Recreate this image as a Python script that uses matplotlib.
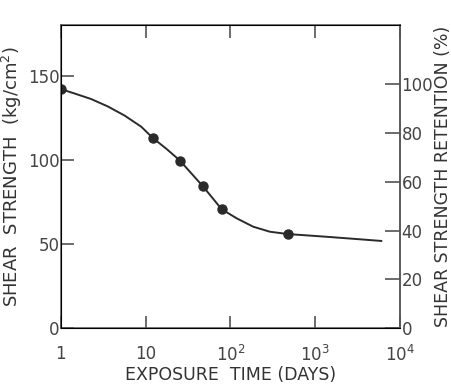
import numpy as np
import matplotlib
matplotlib.use("Agg")
import matplotlib.pyplot as plt

# measured points (days, kg/cm2)
days = [1, 12.2, 25.3, 46.9, 78.5, 479]
strength = [142, 112.9, 99.6, 84.5, 70.7, 55.9]

# smooth trend line
curve_days = [1, 1.45, 2.28, 3.58, 5.64, 8.85, 12.2, 17.6, 25.3, 34.5, 46.9,
              61, 78.5, 118, 185, 291, 479, 1360, 3360, 6050]
curve_strength = [142, 139.4, 136.1, 131.7, 126.3, 119.7, 112.9, 106.5, 99.6,
                  92, 84.5, 77.5, 70.7, 65.3, 60.3, 57.3, 55.9, 54.3, 52.8,
                  51.8]

initial = 145.0  # strength that maps to 100 % retention
x_ticks = [1, 10, 100, 1000, 10000]
x_labels = ['1', '10', '$10^2$', '$10^3$', '$10^4$']
y_ticks = [0, 50, 100, 150]
r_ticks = [0, 20, 40, 60, 80, 100]

ink = '#2a2a2a'
plt.rcParams['font.family'] = ['DejaVu Sans']

fig = plt.figure(figsize=(4.51, 3.87), dpi=100)
ax = fig.add_axes([0.135, 0.152, 0.752, 0.783])

ax.plot(curve_days, curve_strength, color=ink, lw=1.4,
        solid_joinstyle='round', solid_capstyle='round')
ax.plot(days, strength, 'o', color=ink, ms=6.5)

ax.set_xscale('log')
ax.set_xlim(1, 10000)
ax.set_ylim(0, 180)
ax.set_xticks(x_ticks)
ax.set_xticklabels(x_labels)
ax.minorticks_off()
ax.set_yticks(y_ticks)

ax.tick_params(axis='x', direction='in', length=9, width=1.1, pad=12,
               labelsize=12, colors='#444', top=True)
ax.tick_params(axis='y', direction='in', length=9, width=1.1, pad=1,
               labelsize=12, colors='#444')
for s in ax.spines.values():
    s.set_color('#555')
    s.set_linewidth(1.1)

ax.set_xlabel('EXPOSURE  TIME (DAYS)', fontsize=12.5, color='#333', labelpad=1)
ax.set_ylabel('SHEAR  STRENGTH  (kg/cm$^2$)', fontsize=13, color='#333',
              labelpad=3)

ax2 = ax.twinx()
ax2.set_ylim(0, 180 / initial * 100)
ax2.set_yticks(r_ticks)
ax2.tick_params(axis='y', direction='in', length=11, width=1.1, pad=1,
                labelsize=12, colors='#444')
ax2.spines['right'].set_color('#555')
ax2.spines['right'].set_linewidth(1.1)
ax2.set_ylabel('SHEAR STRENGTH RETENTION (%)', fontsize=12.5, color='#333',
               labelpad=1)

fig.savefig('out.png', dpi=100, facecolor='white')
